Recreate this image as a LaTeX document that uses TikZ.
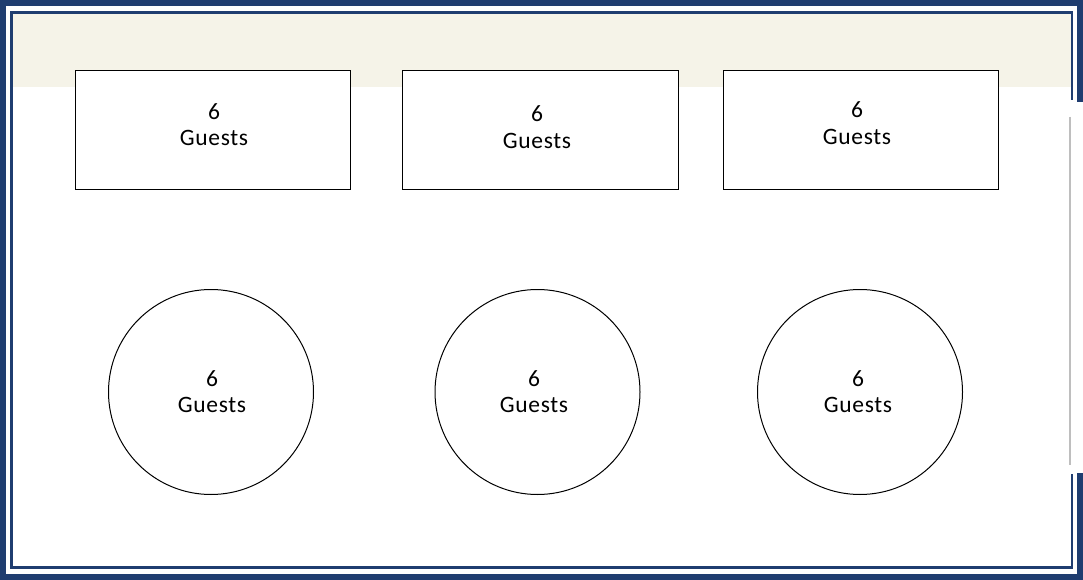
\documentclass[tikz,border=0pt]{standalone}
\usepackage{fontspec}
\setmainfont{Carlito}[LetterSpace=3]
\definecolor{navy}{RGB}{31,61,112}
\definecolor{beige}{RGB}{245,243,232}
\definecolor{lgray}{RGB}{190,190,190}
\begin{document}
\begin{tikzpicture}[x=1pt,y=-1pt,
  tbl/.style={draw=black,line width=1pt,fill=white},
  lbl/.style={align=center,font=\fontsize{23.5}{26.5}\selectfont,inner sep=0pt}]
\useasboundingbox (0,0) rectangle (1083,580);
\fill[white] (0,0) rectangle (1083,580);
% beige band
\fill[beige] (13,14) rectangle (1072,87);
% outer frame
\draw[navy,line width=6pt] (1080,102) -- (1080,3) -- (3,3) -- (3,577) -- (1080,577) -- (1080,473);
% inner frame
\draw[navy,line width=2.6pt] (1072,100) -- (1072,12.5) -- (11.5,12.5) -- (11.5,567.5) -- (1072,567.5) -- (1072,474);
% gray line
\draw[lgray,line width=2pt] (1069.5,117) -- (1069.5,465);
% rectangular tables
\node[tbl,minimum width=275pt,minimum height=118pt,inner sep=0pt] (r1) at (212.5,130) {};
\node[tbl,minimum width=276pt,minimum height=118pt,inner sep=0pt] (r2) at (540,130) {};
\node[tbl,minimum width=275pt,minimum height=118pt,inner sep=0pt] (r3) at (860.5,130) {};
\node[lbl] (t1) at (214,124.5) {6\\Guests};
\node[lbl] (t2) at (537,127) {6\\Guests};
\node[lbl] (t3) at (857,123) {6\\Guests};
% round tables
\node[tbl,circle,minimum size=205pt,inner sep=0pt] (c1) at (211,392) {};
\node[tbl,circle,minimum size=205pt,inner sep=0pt] (c2) at (537.5,392) {};
\node[tbl,circle,minimum size=205pt,inner sep=0pt] (c3) at (860,392) {};
\node[lbl] (u1) at (212,391.5) {6\\Guests};
\node[lbl] (u2) at (534,391.5) {6\\Guests};
\node[lbl] (u3) at (858,391.5) {6\\Guests};
\end{tikzpicture}
\end{document}
